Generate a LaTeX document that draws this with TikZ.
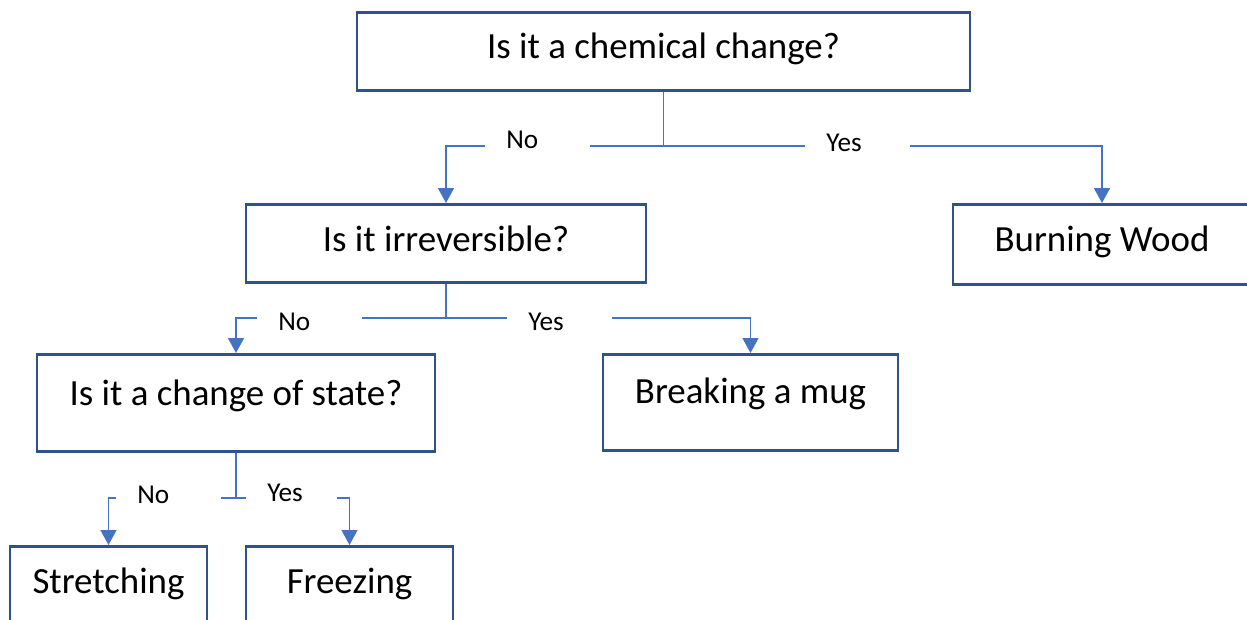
\documentclass[tikz,border=0pt]{standalone}
\usepackage{fontspec}
\setmainfont{Carlito}
\usepackage{xcolor}
\usepackage{tikz}
\usetikzlibrary{arrows.meta}
\definecolor{boxblue}{HTML}{2F528F}
\definecolor{lineblue}{HTML}{4472C4}
\tikzset{>={Triangle[width=3.2mm,length=3mm]}}

\begin{document}
\begin{tikzpicture}[x=0.02cm, y=-0.02cm, box/.style={rectangle, draw=boxblue, line width=1.5pt, fill=white, anchor=north, inner ysep=0pt, font=\fontsize{21}{25}\selectfont}, link/.style={draw=lineblue, line width=0.85pt, ->}, lbl/.style={fill=white, anchor=base west, inner xsep=0.42cm, inner ysep=1pt, text width=1.26cm, align=left, font=\fontsize{15.5}{18}\selectfont}]
    \useasboundingbox (0,0) rectangle (1247,619);
    \clip (0,0) rectangle (1247,619);

    %Nodes
    \node[box, minimum width=12.26cm, text height=0.92cm, text depth=0.64cm](chem) at (663.5,11){Is it a chemical change?};
    \node[box, minimum width=8cm, text height=0.94cm, text depth=0.62cm](irrev) at (446,203){Is it irreversible?};
    \node[box, minimum width=5.96cm, text height=0.94cm, text depth=0.66cm](wood) at (1102,203){Burning Wood};
    \node[box, minimum width=7.96cm, text height=1.02cm, text depth=0.92cm](state) at (236,353){Is it a change of state?};
    \node[box, minimum width=5.9cm, text height=0.98cm, text depth=0.94cm](mug) at (750.5,353){Breaking a mug};
    \node[box, minimum width=3.94cm, text height=0.94cm, text depth=1cm](stretch) at (108.5,545){Stretching};
    \node[box, minimum width=4.14cm, text height=0.94cm, text depth=1cm](freeze) at (349.5,545){Freezing};
    \coordinate (chem_split) at (663.5,146);
    \coordinate (irrev_split) at (446,318);
    \coordinate (state_split) at (236,498);

    %Lines
    \draw[link] (chem.south) -- (chem_split) -| (irrev.north);
    \draw[link] (chem_split) -| (wood.north);
    \draw[link] (irrev.south) -- (irrev_split) -| (state.north);
    \draw[link] (irrev_split) -| (mug.north);
    \draw[link] (state.south) -- (state_split) -| (stretch.north);
    \draw[link] (state_split) -| (freeze.north);

    %Labels
    \node[lbl](chem_no) at (485,148){No};
    \node[lbl](chem_yes) at (805,151){Yes};
    \node[lbl](irrev_no) at (257,330){No};
    \node[lbl](irrev_yes) at (507,330){Yes};
    \node[lbl](state_no) at (116,503){No};
    \node[lbl, text width=0.98cm](state_yes) at (246,501){Yes};

\end{tikzpicture}
\end{document}
